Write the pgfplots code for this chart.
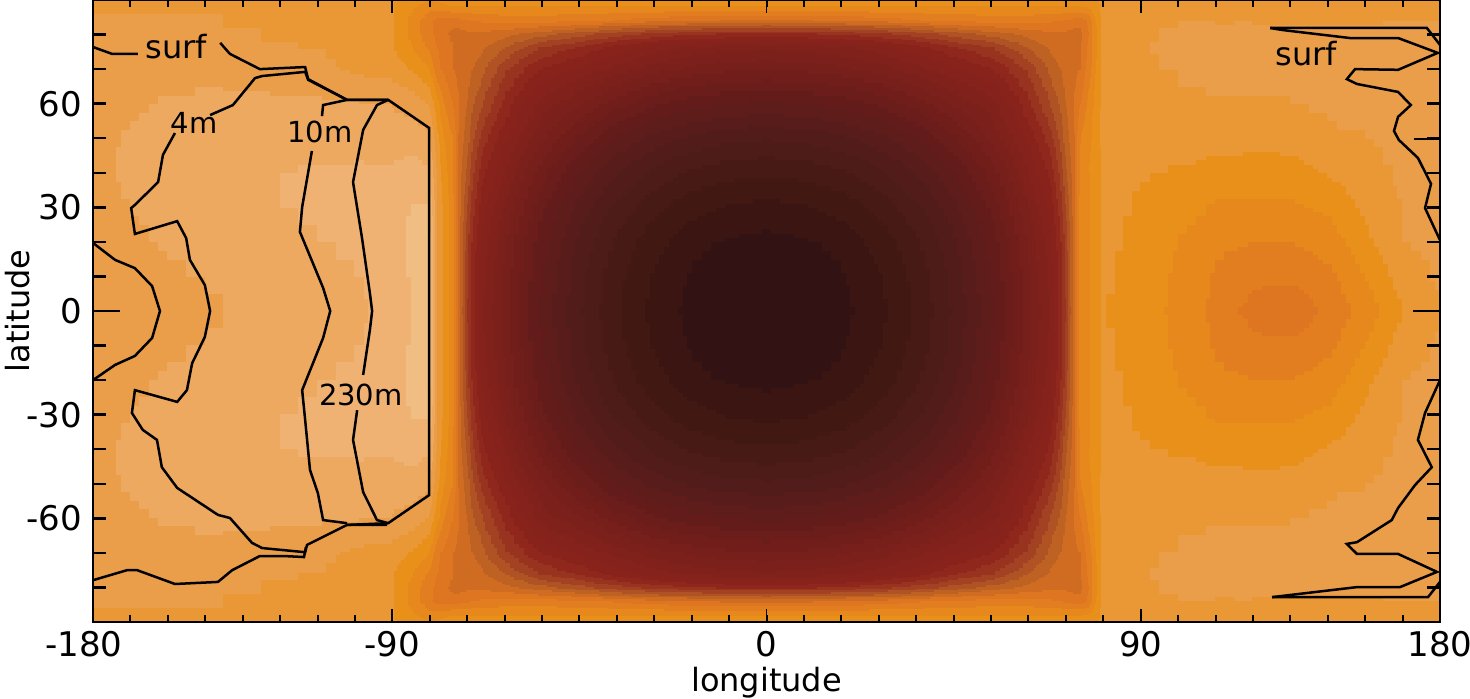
\documentclass[border=0pt]{standalone}
\usepackage{pgfplots}
\usepackage{pgfplotstable}
\usepgfplotslibrary{patchplots}
\usepackage{fontspec}
\setmainfont{DejaVu Sans}
\pgfplotsset{compat=1.18}
\tikzset{cl/.style={black,solid,line width=1.25pt,mark=none}}
\pgfplotsset{fld/.style={surf,shader=interp,patch type=bilinear,colormap access=piecewise constant,point meta=\thisrow{T}}}
\pgfplotstableread{
u lat T
0 0 1000
10 0 996
20 0 985
30 0 965
40 0 936
50 0 895
60 0 841
70 0 765
76 0 715
80 0 640
82 0 575
84 0 510
0 10 996
10 10 992
20 10 981
30 10 961
40 10 932
50 10 891
60 10 838
70 10 762
76 10 712
80 10 638
82 10 575
84 10 510
0 20 985
10 20 981
20 20 970
30 20 951
40 20 922
50 20 882
60 20 828
70 20 754
76 20 704
80 20 632
82 20 575
84 20 510
0 30 965
10 30 961
20 30 951
30 30 931
40 30 903
50 30 864
60 30 812
70 30 738
76 30 690
80 30 620
82 30 572
84 30 510
0 40 936
10 40 932
20 40 922
30 40 903
40 40 876
50 40 838
60 40 787
70 40 716
76 40 670
80 40 605
82 40 570
84 40 515
0 50 895
10 50 891
20 50 882
30 50 864
40 50 838
50 50 801
60 50 753
70 50 690
76 50 645
80 50 590
82 50 565
84 50 520
0 60 841
10 60 838
20 60 828
30 60 812
40 60 787
50 60 753
60 60 725
70 60 660
76 60 615
80 60 580
82 60 560
84 60 540
0 70 775
10 70 772
20 70 763
30 70 748
40 70 725
50 70 700
60 70 678
70 70 630
76 70 590
80 70 570
82 70 565
84 70 560
0 76 735
10 76 732
20 76 724
30 76 709
40 76 688
50 76 660
60 76 640
70 76 595
76 76 575
80 76 568
82 76 565
84 76 560
0 80 665
10 80 662
20 80 655
30 80 645
40 80 630
50 80 610
60 80 590
70 80 572
76 80 565
80 80 565
82 80 568
84 80 565
0 84 560
10 84 560
20 84 555
30 84 550
40 84 540
50 84 532
60 84 530
70 84 530
76 84 535
80 84 540
82 84 545
84 84 550
0 88 500
10 88 500
20 88 500
30 88 500
40 88 500
50 88 500
60 88 500
70 88 500
76 88 500
80 88 500
82 88 500
84 88 500
0 90 488
10 90 488
20 90 488
30 90 488
40 90 488
50 90 488
60 90 488
70 90 488
76 90 488
80 90 488
82 90 488
84 90 488
}\dayT
\pgfplotstableread{
u lat T
-180 0 452
-170 0 452
-160 0 447
-150 0 441
-140 0 436
-130 0 432
-120 0 428
-110 0 424
-100 0 410
-95 0 398
-90 0 388
-88 0 460
-86 0 485
-84 0 510
-180 10 450
-170 10 449
-160 10 441
-150 10 436
-140 10 433
-130 10 427
-120 10 423
-110 10 418
-100 10 408
-95 10 396
-90 10 387
-88 10 460
-86 10 485
-84 10 510
-180 20 449
-170 20 443
-160 20 435
-150 20 431
-140 20 429
-130 20 422
-120 20 417
-110 20 412
-100 20 404
-95 20 395
-90 20 388
-88 20 460
-86 20 485
-84 20 510
-180 30 448
-170 30 437
-160 30 431
-150 30 428
-140 30 426
-130 30 418
-120 30 412
-110 30 408
-100 30 405
-95 30 399
-90 30 398
-88 30 460
-86 30 485
-84 30 510
-180 40 447
-170 40 433
-160 40 429
-150 40 426
-140 40 425
-130 40 420
-120 40 418
-110 40 416
-100 40 416
-95 40 411
-90 40 417
-88 40 465
-86 40 490
-84 40 515
-180 50 447
-170 50 435
-160 50 430
-150 50 428
-140 50 427
-130 50 428
-120 50 428
-110 50 428
-100 50 430
-95 50 428
-90 50 436
-88 50 475
-86 50 500
-84 50 520
-180 60 448
-170 60 444
-160 60 437
-150 60 436
-140 60 435
-130 60 436
-120 60 437
-110 60 439
-100 60 442
-95 60 448
-90 60 463
-88 60 495
-86 60 520
-84 60 540
-180 70 450
-170 70 451
-160 70 448
-150 70 447
-140 70 448
-130 70 450
-120 70 452
-110 70 465
-100 70 470
-95 70 482
-90 70 500
-88 70 535
-86 70 545
-84 70 560
-180 76 453
-170 76 454
-160 76 454
-150 76 454
-140 76 456
-130 76 459
-120 76 461
-110 76 471
-100 76 478
-95 76 498
-90 76 525
-88 76 540
-86 76 550
-84 76 560
-180 80 455
-170 80 456
-160 80 456
-150 80 456
-140 80 459
-130 80 464
-120 80 466
-110 80 473
-100 80 479
-95 80 505
-90 80 535
-88 80 545
-86 80 555
-84 80 565
-180 84 459
-170 84 459
-160 84 459
-150 84 459
-140 84 465
-130 84 468
-120 84 470
-110 84 475
-100 84 479
-95 84 505
-90 84 535
-88 84 545
-86 84 550
-84 84 550
-180 88 465
-170 88 465
-160 88 465
-150 88 465
-140 88 469
-130 88 471
-120 88 472
-110 88 476
-100 88 479
-95 88 495
-90 88 512
-88 88 510
-86 88 505
-84 88 500
-180 90 468
-170 90 468
-160 90 468
-150 90 468
-140 90 470
-130 90 472
-120 90 473
-110 90 476
-100 90 479
-95 90 490
-90 90 498
-88 90 495
-86 90 492
-84 90 488
}\leftT
\pgfplotstableread{
u lat T
84 0 510
86 0 500
88 0 488
89.5 0 478
91 0 480
100 0 490
110 0 505
120 0 525
130 0 548
140 0 552
150 0 534
160 0 510
170 0 479
180 0 460
84 10 510
86 10 500
88 10 488
89.5 10 478
91 10 478
100 10 488
110 10 503
120 10 522
130 10 533
140 10 535
150 10 523
160 10 497
170 10 467
180 10 455
84 20 510
86 20 500
88 20 488
89.5 20 478
91 20 476
100 20 486
110 20 500
120 20 512
130 20 519
140 20 518
150 20 509
160 20 483
170 20 459
180 20 450
84 30 510
86 30 500
88 30 488
89.5 30 478
91 30 474
100 30 483
110 30 491
120 30 502
130 30 503
140 30 502
150 30 494
160 30 473
170 30 458
180 30 449
84 40 515
86 40 500
88 40 488
89.5 40 478
91 40 472
100 40 476
110 40 481
120 40 485
130 40 487
140 40 486
150 40 476
160 40 466
170 40 454
180 40 447
84 50 520
86 50 505
88 50 490
89.5 50 477
91 50 470
100 50 468
110 50 470
120 50 472
130 50 472
140 50 472
150 50 462
160 50 459
170 50 450
180 50 446
84 60 540
86 60 515
88 60 495
89.5 60 477
91 60 468
100 60 461
110 60 461
120 60 461
130 60 461
140 60 459
150 60 453
160 60 450
170 60 447
180 60 445
84 70 560
86 70 530
88 70 500
89.5 70 477
91 70 468
100 70 461
110 70 455
120 70 453
130 70 453
140 70 451
150 70 447
160 70 445
170 70 444
180 70 444
84 76 560
86 76 535
88 76 505
89.5 76 477
91 76 468
100 76 461
110 76 453
120 76 452
130 76 452
140 76 450
150 76 447
160 76 445
170 76 444
180 76 444
84 80 565
86 80 540
88 80 505
89.5 80 477
91 80 470
100 80 461
110 80 455
120 80 454
130 80 456
140 80 454
150 80 452
160 80 451
170 80 450
180 80 450
84 84 550
86 84 535
88 84 500
89.5 84 477
91 84 470
100 84 463
110 84 460
120 84 461
130 84 461
140 84 462
150 84 462
160 84 462
170 84 462
180 84 462
84 88 500
86 88 495
88 88 488
89.5 88 477
91 88 470
100 88 468
110 88 465
120 88 465
130 88 466
140 88 467
150 88 467
160 88 467
170 88 467
180 88 467
84 90 488
86 90 486
88 90 482
89.5 90 476
91 90 470
100 90 470
110 90 468
120 90 468
130 90 468
140 90 469
150 90 469
160 90 469
170 90 469
180 90 469
}\rightT
\begin{document}
\begin{tikzpicture}
\useasboundingbox (-46.5pt,-38pt) rectangle (688.5pt,311pt);
\begin{axis}[
  at={(0pt,0pt)}, anchor=south west,
  scale only axis, width=673.5pt, height=311pt,
  xmin=-180, xmax=180, ymin=-90, ymax=90,
  axis on top,
  axis line style={line width=1.3pt},
  tick align=inside,
  major tick length=6.5pt, minor tick length=3.5pt,
  xtick={-100,0,100}, xticklabels={-90,0,90},
  extra x ticks={-180,180}, extra x tick labels={-180\hspace*{9pt},180},
  minor xtick={-170,-160,...,170},
  ytick={-80,-70,-60,-50,-40,-30,-20,-10,10,20,30,40,50,60,70,80},
  yticklabels={,,-60,,,-30,,,,,30,,,60,,},
  extra y ticks={0}, extra y tick labels={0},
  x tick style={line width=0.9pt, black},
  minor x tick style={line width=1pt, black},
  y tick style={line width=1.2pt, black},
  extra y tick style={tick style={line width=0pt, draw=none}},
  tick label style={font=\fontsize{17}{17}\selectfont},
  xticklabel style={yshift=-1pt},
  yticklabel style={xshift=-2pt},
  xlabel={longitude}, ylabel={latitude},
  label style={font=\fontsize{16}{16}\selectfont},
  xlabel style={at={(axis description cs:0.5,0)}, anchor=north, yshift=-19pt},
  ylabel style={at={(axis description cs:0,0.5)}, anchor=south, yshift=28pt},
  colormap={tmap}{
    rgb255=(240,190,130) rgb255=(239,178,114) rgb255=(237,169,96) rgb255=(235,158,74)
    rgb255=(234,151,53) rgb255=(233,144,27) rgb255=(230,136,28) rgb255=(227,126,32)
    rgb255=(222,118,33) rgb255=(207,108,34) rgb255=(190,98,36) rgb255=(176,83,36)
    rgb255=(162,66,34) rgb255=(151,51,31) rgb255=(143,39,28) rgb255=(136,35,28)
    rgb255=(132,34,27) rgb255=(128,33,27) rgb255=(124,32,27) rgb255=(119,31,27)
    rgb255=(113,30,27) rgb255=(107,29,27) rgb255=(100,28,27) rgb255=(94,28,27)
    rgb255=(88,28,27) rgb255=(82,28,26) rgb255=(77,27,24) rgb255=(72,26,22)
    rgb255=(66,24,19) rgb255=(59,21,18) rgb255=(50,18,18)},
  point meta min=379, point meta max=1000,
]
\addplot[fld, mesh/cols=12] table[x=u, y=lat] {\dayT};
\addplot[fld, mesh/cols=12] table[x=u, y expr=-\thisrow{lat}] {\dayT};
\addplot[fld, mesh/cols=12] table[x expr=-\thisrow{u}, y=lat] {\dayT};
\addplot[fld, mesh/cols=12] table[x expr=-\thisrow{u}, y expr=-\thisrow{lat}] {\dayT};
\addplot[fld, mesh/cols=14] table[x=u, y=lat] {\leftT};
\addplot[fld, mesh/cols=14] table[x=u, y expr=-\thisrow{lat}] {\leftT};
\addplot[fld, mesh/cols=14] table[x=u, y=lat] {\rightT};
\addplot[fld, mesh/cols=14] table[x=u, y expr=-\thisrow{lat}] {\rightT};
\addplot[cl] coordinates {(-180,76.4)(-174.9,74.4)(-168,74.4)};
\addplot[cl] coordinates {(-146,77.6)(-143.4,74.4)(-135.4,70.0)(-123.3,70.6)(-122.5,67.1)(-112.1,61.1)(-101.1,61.1)};
\addplot[cl] coordinates {(-158.1,51.5)(-161.3,45.2)(-162.6,37.3)(-168.8,30.7)(-169.8,29.8)(-168.8,22.3)(-157.5,26.0)(-155.1,21.1)(-154.1,14.8)(-150.1,7.5)(-148.7,0)(-150.1,-7.5)(-153.5,-15.1)(-154.9,-22.9)(-157.5,-26.3)(-168.8,-22.9)(-169.6,-29.5)(-166.7,-34.4)(-162.9,-37.3)(-161.6,-45.2)(-157.5,-51.2)(-146.6,-59.0)(-143.4,-59.9)(-137.5,-67.1)(-134.8,-68.6)(-123.3,-69.8)(-122.8,-67.7)(-112.1,-61.9)(-101.4,-61.9)};
\addplot[cl] coordinates {(-148.7,56.7)(-142.6,59.6)(-136.7,67.4)(-134.8,68.0)(-123.3,69.2)(-122.5,66.9)(-112.1,61.1)(-101.1,61.1)(-90.2,53.0)(-90.2,-53.3)(-101.1,-61.4)(-112.1,-61.9)};
\addplot[cl] coordinates {(-180,-77.9)(-170.9,-75.0)(-168.2,-75.0)(-158.1,-79.0)(-146.6,-78.4)(-142.8,-75.0)(-135.4,-70.9)(-129.2,-70.9)(-123.6,-71.2)(-123.1,-68.3)};
\addplot[cl] coordinates {(-118.8,56.4)(-118.5,59.6)(-112.1,61.1)};
\addplot[cl] coordinates {(-121.5,46.3)(-124.1,30.1)(-124.7,22.9)(-118.5,6.7)(-116.6,0)(-118.5,-7.8)(-124.1,-22.9)(-123.3,-31.5)(-122.0,-46.0)(-119.9,-52.7)(-118.5,-60.5)(-112.1,-61.4)};
\addplot[cl] coordinates {(-101.1,61.1)(-104.1,59.6)(-107.8,52.4)(-110.5,37.3)(-108.1,21.1)(-106.0,5.2)(-105.4,0)(-106.0,-5.5)(-107.8,-18.5)};
\addplot[cl] coordinates {(-109.4,-28.7)(-110.5,-37.3)(-107.8,-52.4)(-104.1,-60.5)(-101.1,-61.4)};
\addplot[cl] coordinates {(-180,19.7)(-174.1,14.8)(-168.8,12.4)(-164.2,7.2)(-162.1,0)(-164.2,-7.8)(-168.8,-13.0)(-174.1,-15.6)(-180,-20.0)};
\addplot[cl] coordinates {(134.6,81.9)(176.5,81.9)(180,77.0)};
\addplot[cl] coordinates {(134.6,81.9)(138,81.3)(155.9,79)(168.8,79)(179.4,74.7)(168.8,69.8)(157.3,70)(155.1,67.1)(157.8,65.7)(168.8,63.4)(172.2,59.6)(168.8,56.2)(167.7,52.1)(169,49.5)(174.1,44.3)(177.6,36.8)(176,29.8)(180,20.5)};
\addplot[cl] coordinates {(180,-20.0)(176,-29.5)(174.1,-37.3)(177.8,-45.2)(173.3,-50.4)(168.8,-57.0)(167.1,-60.5)(157.8,-66.9)(155.1,-67.4)(157.8,-70.3)(168.8,-70.3)(179.2,-75.5)(169.3,-79.9)(157.8,-79.9)(135.1,-82.8)};
\addplot[cl] coordinates {(135.1,-82.8)(176.8,-82.8)(180,-78.4)};
\addplot[cl, line width=0.7pt] coordinates {(173,49.8)(180,49.8)};
\addplot[cl, line width=0.7pt] coordinates {(-180,0)(-172.8,0)};
\addplot[cl, line width=0.7pt] coordinates {(172.8,0)(180,0)};
\node[font=\fontsize{16}{16}\selectfont] at (axis cs:-157.8,76.4) {surf};
\node[font=\fontsize{16}{16}\selectfont] at (axis cs:144.2,74.4) {surf};
\node[font=\fontsize{14.5}{14.5}\selectfont] at (axis cs:-153,54.4) {4m};
\node[font=\fontsize{14.5}{14.5}\selectfont] at (axis cs:-119.3,51.8) {10m};
\node[font=\fontsize{14.5}{14.5}\selectfont] at (axis cs:-108.4,-24.3) {230m};
\end{axis}
\end{tikzpicture}
\end{document}
